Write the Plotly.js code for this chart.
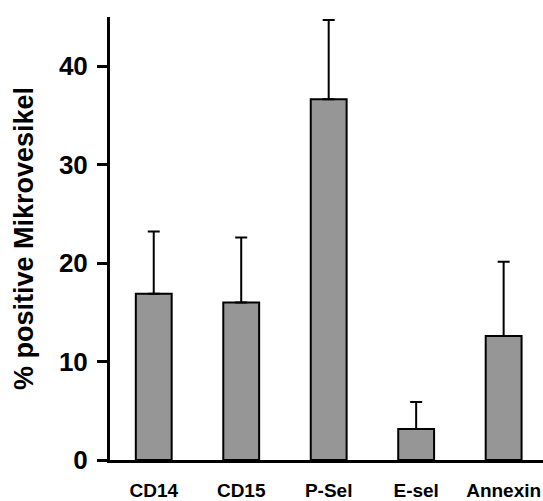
<!DOCTYPE html>
<html>
<head>
<meta charset="utf-8">
<script src="https://cdn.plot.ly/plotly-3.0.1.min.js"></script>
<style>html,body{margin:0;padding:0;background:#fff;}#chart{width:543px;height:501px;}</style>
</head>
<body>
<div id="chart"></div>
<script>
var categories = ["CD14", "CD15", "P-Sel", "E-sel", "Annexin"];
var values = [16.9, 16.0, 36.65, 3.15, 12.6];
var errors = [6.3, 6.6, 8.05, 2.75, 7.55];
var yTicks = [0, 10, 20, 30, 40];
var yTitle = "% positive Mikrovesikel";

var FONT = "Liberation Sans, Arial, Helvetica, sans-serif";
function bold(s) { return "<b>" + s + "</b>"; }

var trace = {
  type: "bar",
  x: categories,
  y: values,
  marker: { color: "#969696", line: { color: "#000", width: 2 } },
  error_y: { type: "data", array: errors, symmetric: false, arrayminus: errors.map(function(){return 0;}), color: "#000", thickness: 2, width: 6 },
  hoverinfo: "none"
};

var layout = {
  width: 543,
  height: 501,
  margin: { l: 110, r: 0, t: 17, b: 41 },
  paper_bgcolor: "#fff",
  plot_bgcolor: "#fff",
  showlegend: false,
  bargap: 0.59,
  font: { family: FONT, color: "#000" },
  xaxis: {
    type: "category",
    range: [-0.5, 4.45],
    tickvals: categories,
    ticktext: categories.map(bold),
    showline: true, linecolor: "#000", linewidth: 3,
    ticks: "", showgrid: false, zeroline: false,
    tickfont: { family: FONT, size: 19, color: "#000" },
    ticklabelstandoff: 11
  },
  yaxis: {
    range: [0, 45],
    tickvals: yTicks,
    ticktext: yTicks.map(function(v){ return bold(String(v)); }),
    showline: true, linecolor: "#000", linewidth: 3,
    ticks: "outside", ticklen: 10, tickwidth: 3, tickcolor: "#000",
    showgrid: false, zeroline: false,
    tickfont: { family: FONT, size: 26, color: "#000" },
    ticklabelstandoff: 4,
    title: { text: bold(yTitle), font: { family: FONT, size: 27, color: "#000" }, standoff: 18 }
  }
};

Plotly.newPlot("chart", [trace], layout, { staticPlot: true, displayModeBar: false });
</script>
</body>
</html>
